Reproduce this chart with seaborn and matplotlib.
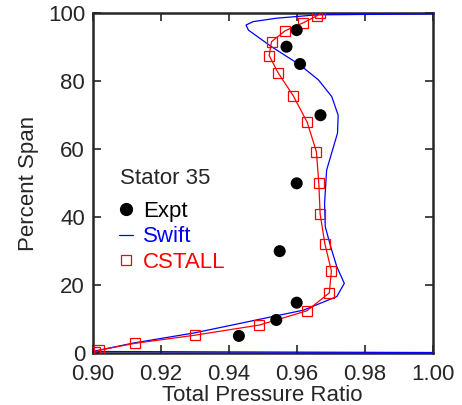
import numpy as np
import pandas as pd
import seaborn as sns
import matplotlib
matplotlib.use("Agg")
import matplotlib.pyplot as plt
from matplotlib.lines import Line2D

# Data
expt_ratio = [0.943, 0.954, 0.960, 0.955, 0.960, 0.967, 0.961, 0.957, 0.960]
expt_span = [4.9, 9.6, 14.7, 29.9, 49.9, 70.0, 85.1, 90.2, 95.1]

swift_ratio = [1.000, 0.900, 0.912, 0.930, 0.962, 0.9718, 0.974, 0.9718, 0.970, 0.9684,
               0.9682, 0.9688, 0.972, 0.9722, 0.9703, 0.9664, 0.961, 0.9526, 0.9458,
               0.9451, 0.9472, 0.954, 0.9659, 1.000]
swift_span = [0.0, 0.3, 2.8, 5.8, 12.5, 16.5, 20.4, 25.3, 31.2, 37.1,
              44.0, 53.8, 64.7, 70.0, 75.5, 80.4, 84.8, 90.2, 95.1,
              96.6, 97.6, 98.6, 99.6, 99.9]

cstall_ratio = [0.9008, 0.902, 0.9124, 0.930, 0.949, 0.963, 0.9696, 0.9702, 0.9683, 0.9669,
                0.9665, 0.9658, 0.9631, 0.959, 0.9546, 0.9519, 0.9526, 0.9566, 0.962,
                0.9659, 0.967]
cstall_span = [0.1, 0.7, 2.7, 5.1, 8.1, 12.3, 17.6, 24.1, 32.0, 40.8,
               49.9, 59.2, 67.9, 75.7, 82.4, 87.6, 91.7, 94.9, 97.3,
               99.3, 100.0]

expt = pd.DataFrame({"ratio": expt_ratio, "span": expt_span})
swift = pd.DataFrame({"ratio": swift_ratio, "span": swift_span})
cstall = pd.DataFrame({"ratio": cstall_ratio, "span": cstall_span})

sns.set_style("ticks")
plt.rcParams["font.family"] = ["Liberation Sans", "DejaVu Sans"]
FS = 16

fig, ax = plt.subplots(figsize=(4.62, 4.05), dpi=100)
fig.subplots_adjust(left=0.2006, right=0.9366, top=0.9667, bottom=0.1296)

sns.scatterplot(data=expt, x="ratio", y="span", ax=ax, color="black", s=75,
                edgecolor="none", zorder=3)
sns.lineplot(data=swift, x="ratio", y="span", ax=ax, sort=False, estimator=None,
             color="blue", lw=0.9, clip_on=False, zorder=2.6)
sns.lineplot(data=cstall, x="ratio", y="span", ax=ax, sort=False, estimator=None,
             color="red", lw=0.9, marker="s", markersize=7.5, markerfacecolor="none",
             markeredgecolor="red", markeredgewidth=0.9, zorder=2.7)

ax.set_xlim(0.90, 1.00)
ax.set_ylim(0, 100)
ax.set_xticks([0.90, 0.92, 0.94, 0.96, 0.98, 1.00])
ax.set_xticklabels(["0.90", "0.92", "0.94", "0.96", "0.98", "1.00"])
ax.set_yticks([0, 20, 40, 60, 80, 100])
ax.set_xlabel("Total Pressure Ratio", fontsize=FS, labelpad=0)
ax.set_ylabel("Percent Span", fontsize=FS, labelpad=6)
ax.tick_params(direction="in", length=6, width=1.2, top=True, right=True,
               labelsize=FS)
ax.tick_params(axis="x", pad=8)
ax.tick_params(axis="y", pad=5.5)
for sp in ax.spines.values():
    sp.set_linewidth(1.8)
    sp.set_visible(True)

# legend title drawn as plain text, entries as a frameless legend
ax.text(0.080, 0.497, "Stator 35", transform=ax.transAxes, fontsize=FS,
        ha="left", va="baseline")
handles = [
    Line2D([], [], ls="none", marker="o", color="black", markersize=8.5),
    Line2D([], [], color="blue", lw=0.9),
    Line2D([], [], ls="none", marker="s", markersize=7.5, markerfacecolor="none",
           markeredgecolor="red", markeredgewidth=0.9),
]
ax.legend(handles, ["Expt", "Swift", "CSTALL"], loc="center left",
          bbox_to_anchor=(0.077, 0.341), frameon=False, handlelength=0.63,
          handletextpad=0.45, labelspacing=0.2, borderaxespad=0, borderpad=0,
          fontsize=FS, labelcolor=["black", "blue", "red"])

fig.savefig("out.png", dpi=100)
